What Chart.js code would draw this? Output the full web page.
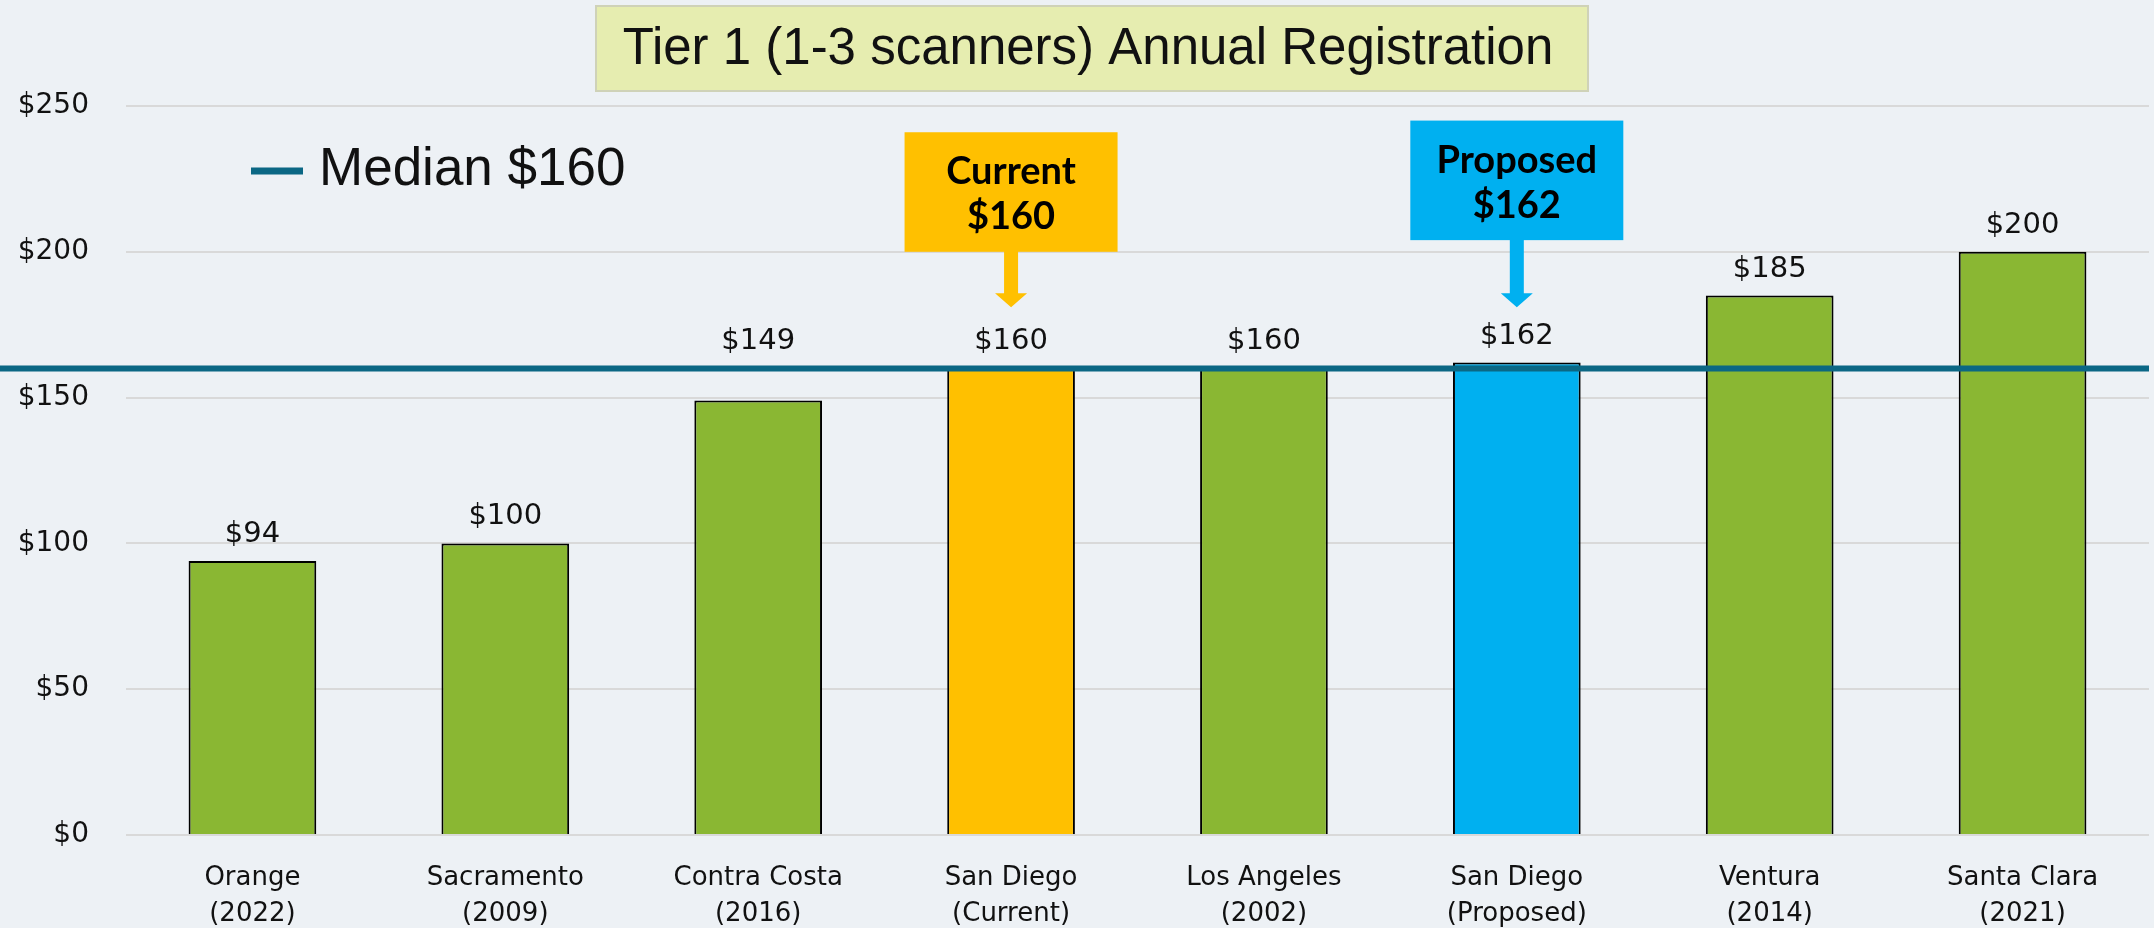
<!DOCTYPE html>
<html>
<head>
<meta charset="utf-8">
<script src="https://cdn.jsdelivr.net/npm/chart.js@4/dist/chart.umd.min.js"></script>
<style>
  html, body { margin: 0; padding: 0; background: #edf1f5; }
  #wrap { width: 2154px; height: 928px; }
</style>
</head>
<body>
<div id="wrap"><canvas id="feeChart" width="2154" height="928"></canvas></div>
<script>
// chart values
const counties = [
  ['Orange', '(2022)'],
  ['Sacramento', '(2009)'],
  ['Contra Costa', '(2016)'],
  ['San Diego', '(Current)'],
  ['Los Angeles', '(2002)'],
  ['San Diego', '(Proposed)'],
  ['Ventura', '(2014)'],
  ['Santa Clara', '(2021)']
];
const fees = [94, 100, 149, 160, 160, 162, 185, 200];
const barColors = ['#8ab733', '#8ab733', '#8ab733', '#ffc000', '#8ab733', '#00b0f0', '#8ab733', '#8ab733'];
const medianFee = 160;
const medianLabel = 'Median $160';
const chartTitle = 'Tier 1 (1-3 scanners) Annual Registration';
const yMax = 250;
const yStep = 50;

// callout boxes above the two San Diego bars (in value units)
const callouts = [
  { index: 3, lines: ['Current', '$160'], color: '#ffc000', top: 241, bottom: 200, tip: 181 },
  { index: 5, lines: ['Proposed', '$162'], color: '#00b0f0', top: 245, bottom: 204, tip: 181 }
];

const medianColor = '#0b6784';

const decor = {
  id: 'decor',
  beforeDraw(chart) {
    const ctx = chart.ctx;
    ctx.save();
    ctx.fillStyle = '#edf1f5';
    ctx.fillRect(0, 0, chart.width, chart.height);
    ctx.restore();
  },
  afterDatasetsDraw(chart) {
    const ctx = chart.ctx;
    const x = chart.scales.x, y = chart.scales.y;
    const area = chart.chartArea;
    ctx.save();

    // median line across the whole plot
    const my = y.getPixelForValue(medianFee);
    ctx.strokeStyle = medianColor;
    ctx.lineWidth = 6;
    ctx.beginPath();
    ctx.moveTo(0, my);
    ctx.lineTo(area.right, my);
    ctx.stroke();

    // value labels (lifted above the median line when they'd sit on it)
    ctx.fillStyle = '#111';
    ctx.font = '29px "DejaVu Sans"';
    ctx.textAlign = 'center';
    ctx.textBaseline = 'alphabetic';
    const meta = chart.getDatasetMeta(0);
    meta.data.forEach((bar, i) => {
      let base = bar.y;
      if (bar.y > my && bar.y - my < 50) base = my;
      ctx.fillText('$' + fees[i], bar.x, base - 19);
    });

    // callouts
    callouts.forEach(c => {
      const cx = x.getPixelForValue(c.index);
      const top = y.getPixelForValue(c.top);
      const bottom = y.getPixelForValue(c.bottom);
      const tip = y.getPixelForValue(c.tip);
      const w = 213;
      ctx.fillStyle = c.color;
      ctx.fillRect(cx - w / 2, top, w, bottom - top);
      // arrow
      ctx.beginPath();
      ctx.moveTo(cx - 7, bottom - 1);
      ctx.lineTo(cx + 7, bottom - 1);
      ctx.lineTo(cx + 7, tip - 14);
      ctx.lineTo(cx + 16, tip - 14);
      ctx.lineTo(cx, tip);
      ctx.lineTo(cx - 16, tip - 14);
      ctx.lineTo(cx - 7, tip - 14);
      ctx.closePath();
      ctx.fill();
      ctx.fillStyle = '#000';
      ctx.font = 'bold 38px Lato';
      ctx.textAlign = 'center';
      ctx.textBaseline = 'middle';
      const mid = (top + bottom) / 2;
      ctx.fillText(c.lines[0], cx, mid - 20);
      ctx.fillText(c.lines[1], cx, mid + 25);
    });

    // legend
    ctx.strokeStyle = medianColor;
    ctx.lineWidth = 7;
    ctx.beginPath();
    ctx.moveTo(251, 171);
    ctx.lineTo(303, 171);
    ctx.stroke();
    ctx.fillStyle = '#111';
    ctx.font = '53px "Liberation Sans"';
    ctx.textAlign = 'left';
    ctx.textBaseline = 'middle';
    ctx.fillText(medianLabel, 319, 170);

    // title box
    ctx.fillStyle = '#e6edb0';
    ctx.fillRect(596, 6, 992, 85);
    ctx.strokeStyle = '#cfd2b8';
    ctx.lineWidth = 2;
    ctx.strokeRect(596, 6, 992, 85);
    ctx.fillStyle = '#111';
    ctx.font = '51px "Liberation Sans"';
    ctx.textAlign = 'center';
    ctx.fillText(chartTitle, 1088, 50);

    ctx.restore();
  }
};

new Chart(document.getElementById('feeChart'), {
  type: 'bar',
  data: {
    labels: counties,
    datasets: [{
      data: fees,
      backgroundColor: barColors,
      borderColor: '#000',
      borderWidth: 2,
      barPercentage: 0.505,
      categoryPercentage: 1
    }]
  },
  options: {
    responsive: false,
    animation: false,
    layout: { padding: { left: 0, right: 5, top: 106, bottom: 0 } },
    plugins: { legend: { display: false }, tooltip: { enabled: false }, title: { display: false } },
    scales: {
      x: {
        grid: { display: false, drawTicks: false },
        border: { display: false },
        ticks: {
          color: '#111',
          font: { family: 'DejaVu Sans', size: 26, lineHeight: 1.36 },
          padding: 26,
          maxRotation: 0,
          autoSkip: false
        },
        afterFit(axis) { axis.height = 93; }
      },
      y: {
        min: 0,
        max: yMax,
        grid: { color: '#d9d9d9', lineWidth: 2, drawTicks: false },
        border: { display: false },
        ticks: {
          stepSize: yStep,
          color: '#111',
          font: { family: 'DejaVu Sans', size: 28 },
          padding: 37,
          callback: v => '$' + v
        },
        afterFit(axis) { axis.width = 126; }
      }
    }
  },
  plugins: [decor]
});
</script>
</body>
</html>
